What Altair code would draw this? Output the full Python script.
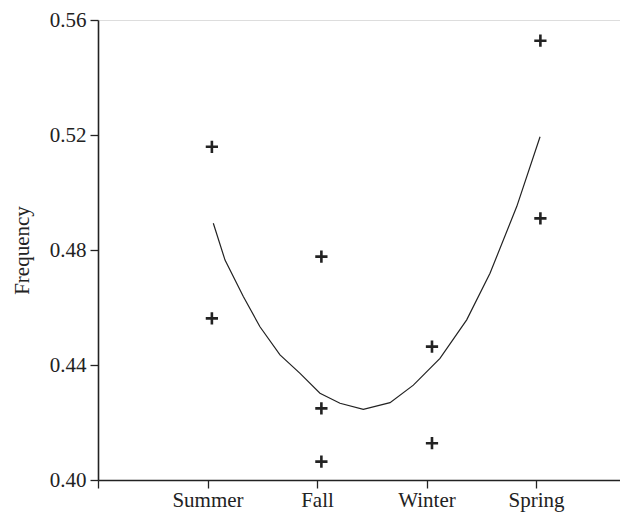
import altair as alt
import pandas as pd

# --- data ---
seasons = ["Summer", "Fall", "Winter", "Spring"]
season_ticks = [0, 1, 2, 3, 4]

point_x = [1.04, 1.04, 2.04, 2.04, 2.04, 3.05, 3.05, 4.04, 4.04]
point_freq = [0.5159, 0.4562, 0.4777, 0.4249, 0.4064, 0.4464, 0.4128, 0.5528, 0.4910]

curve_x = [1.053, 1.160, 1.327, 1.479, 1.662, 1.845, 2.027, 2.210, 2.423,
           2.667, 2.880, 3.123, 3.367, 3.580, 3.824, 4.037]
curve_freq = [0.4893, 0.4765, 0.4638, 0.4533, 0.4435, 0.4371, 0.4302, 0.4267, 0.4246,
              0.4269, 0.4330, 0.4423, 0.4557, 0.4719, 0.4951, 0.5194]

y_ticks = [0.40, 0.44, 0.48, 0.52, 0.56]

pts = pd.DataFrame({"x": point_x, "freq": point_freq})
crv = pd.DataFrame({"x": curve_x, "freq": curve_freq})

FONT = "Liberation Serif"
INK = "#222222"

label_expr = ("datum.value == 1 ? 'Summer' : datum.value == 2 ? 'Fall' : "
              "datum.value == 3 ? 'Winter' : datum.value == 4 ? 'Spring' : ''")

x_enc = alt.X(
    "x:Q",
    scale=alt.Scale(domain=[0, 4.767], nice=False, zero=False),
    axis=alt.Axis(
        values=season_ticks, labelExpr=label_expr, title=None, grid=False,
        tickSize=8, labelPadding=1, labelFontSize=21, labelFont=FONT,
        labelColor=INK, domainColor=INK, tickColor=INK, domainWidth=1.6,
        tickWidth=1.3, labelBaseline="top",
    ),
)
y_enc = alt.Y(
    "freq:Q",
    scale=alt.Scale(domain=[0.40, 0.56], nice=False, zero=False),
    axis=alt.Axis(
        values=y_ticks, format=".2f", title="Frequency", grid=False,
        tickSize=8, labelPadding=4, labelFontSize=21, labelFont=FONT,
        labelColor=INK, domainColor=INK, tickColor=INK, domainWidth=1.6,
        tickWidth=1.3, titleFont=FONT, titleFontSize=21, titleFontWeight="normal",
        titleColor=INK, titleAngle=270, titleX=-70, titleY=230,
        titleAlign="center", titleBaseline="alphabetic",
    ),
)

points = alt.Chart(pts).mark_point(
    shape="M-1,0L1,0M0,-1L0,1", size=150, strokeWidth=2.6, color=INK,
    filled=False, opacity=1,
).encode(x=x_enc, y=y_enc)

curve = alt.Chart(crv).mark_line(color=INK, strokeWidth=1.2).encode(
    x=alt.X("x:Q"), y=alt.Y("freq:Q"), order="x:Q"
)

chart = (
    alt.layer(curve, points)
    .properties(
        width=522, height=460,
        padding={"left": 98, "top": 20, "right": 0, "bottom": 32},
        autosize=alt.AutoSizeParams(type="none"),
    )
    .configure_view(stroke=None)
    .configure(background="white")
)

chart.save("out.html", embed_options={"renderer": "svg", "actions": False})
